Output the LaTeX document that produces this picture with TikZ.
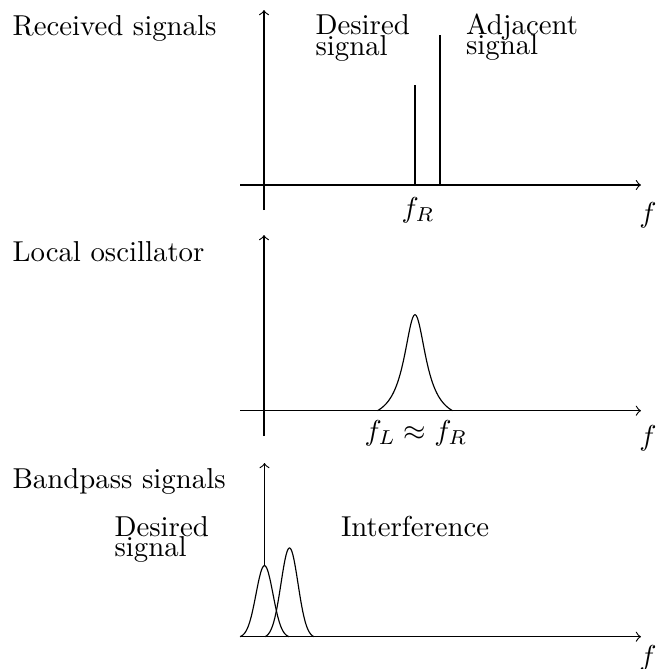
\documentclass[tikz,border=0pt]{standalone}
\begin{document}
\begin{tikzpicture}[x=0.3472pt,y=-0.3472pt,
  lbl/.style={anchor=base west,inner sep=0pt},
  flbl/.style={anchor=north,inner sep=0pt},
  axisline/.style={line width=0.4pt,->},
  spike/.style={line width=0.8pt},
  curve/.style={line width=0.4pt,smooth}]
\useasboundingbox (0,0) rectangle (655,669);
% ---------- panel 1 ----------
\node[lbl] (t1) at (12,35) {Received signals};
\coordinate (x1s) at (240,185);
\coordinate (x1e) at (641,185);
\coordinate (y1s) at (264,210);
\coordinate (y1e) at (264,10);
\draw[axisline] (x1s) -- (x1e);
\draw[axisline] (y1s) -- (y1e);
\node[flbl] (f1) at (648,202) {$f$};
\coordinate (dsb) at (415,185);
\coordinate (dst) at (415,85);
\coordinate (asb) at (440,185);
\coordinate (ast) at (440,35);
\draw[spike] (dsb) -- (dst);
\draw[spike] (asb) -- (ast);
\node[flbl] (fr) at (418,197) {$f_R$};
\node[lbl] (d1a) at (315,34.3) {Desired};
\node[lbl] (d1b) at (315,55) {signal};
\node[lbl] (a1a) at (465.5,34.5) {Adjacent};
\node[lbl] (a1b) at (465.5,54.5) {signal};
% ---------- panel 2 ----------
\node[lbl] (t2) at (12,261.5) {Local oscillator};
\coordinate (x2s) at (240,410.7);
\coordinate (x2e) at (641,410.7);
\coordinate (y2s) at (264,436);
\coordinate (y2e) at (264,235);
\draw[axisline] (x2s) -- (x2e);
\draw[axisline] (y2s) -- (y2e);
\node[flbl] (f2) at (648,425) {$f$};
\draw[curve] plot[domain=-37.5:37.5,samples=121]
  ({415+\x},{410.7-96*(1/(1+(\x/13.5)*(\x/13.5))-0.1147)/0.8853});
\node[flbl] (flr) at (416,420) {$f_L \approx f_R$};
% ---------- panel 3 ----------
\node[lbl] (t3) at (12,488.3) {Bandpass signals};
\coordinate (x3s) at (240,636.7);
\coordinate (x3e) at (641,636.7);
\coordinate (y3s) at (264.5,565.7);
\coordinate (y3e) at (264.5,463);
\draw[axisline] (x3s) -- (x3e);
\draw[axisline] (y3s) -- (y3e);
\node[flbl] (f3) at (648,645) {$f$};
\draw[curve] plot[domain=-24.5:24.5,samples=101]
  ({264.5+\x},{636.7-71*(exp(-((\x)*(\x))/144.5)-0.0157)/0.9843});
\draw[curve] plot[domain=-24.5:24.5,samples=101]
  ({289.5+\x},{636.7-88.7*(exp(-((\x)*(\x))/144.5)-0.0157)/0.9843});
\node[lbl] (d3a) at (114,536) {Desired};
\node[lbl] (d3b) at (114,556.7) {signal};
\node[lbl] (i3) at (340.5,536) {Interference};
\end{tikzpicture}
\end{document}
